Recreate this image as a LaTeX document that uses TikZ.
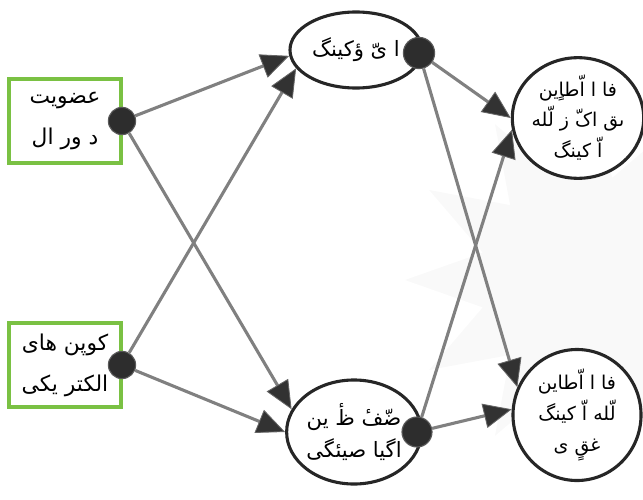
\documentclass[tikz,border=0pt]{standalone}
\usepackage{fontspec}
\usepackage{xcolor}
\usepackage{tikz}
\newfontfamily\arabicfont[Script=Arabic]{DejaVu Sans}
\TeXXeTstate=1
\usetikzlibrary{shapes,arrows.meta,positioning}
\definecolor{boxgreen}{RGB}{122,193,67}
\definecolor{linkgray}{RGB}{128,128,128}
\definecolor{headfill}{RGB}{50,50,50}
\definecolor{knobfill}{RGB}{45,45,45}
\newcommand{\rl}[1]{\beginR #1\endR}

\begin{document}
\begin{tikzpicture}[x=0.025cm, y=-0.025cm,
    inbox/.style={draw=boxgreen, line width=2.3pt, fill=white, minimum width=2.8cm, minimum height=2.1cm,
        inner sep=0pt, align=center, font=\arabicfont\fontsize{15.5}{29}\selectfont},
    hub/.style={ellipse, draw=black!85, line width=2.2pt, fill=white, inner sep=0pt, align=center,
        font=\arabicfont\fontsize{15}{23}\selectfont},
    knob/.style={circle, fill=knobfill, draw=gray!70!black, line width=0.8pt, minimum size=0.68cm, inner sep=0pt},
    link/.style={draw=linkgray, line width=2.2pt,
        -{Triangle[length=0.7cm, width=0.62cm, line width=0.6pt, color=gray!80!black, fill=headfill]}}]
    \useasboundingbox (0,0) rectangle (643,499);
    \clip (0,0) rectangle (643,499);

    % Faint background mark
    \node[star, star points=12, star point ratio=1.7, minimum size=9cm, fill=gray!5, inner sep=0pt] (rosette) at (585,280) {};

    % Input boxes
    \node[inbox] (member) at (65,121) {\rl{عضویت}\\\rl{د ور ال}};
    \node[inbox] (coupon) at (65,365) {\rl{کوپن های}\\\rl{الکتر یکی}};
    \node[knob] (k1) at (122,121) {};
    \node[knob] (k2) at (122,365) {};

    % Middle nodes
    \node[hub, minimum width=3.3cm, minimum height=1.9cm] (mail) at (356,50) {\rl{ا یّ ؤکینگ}};
    \node[hub, minimum width=3.15cm, minimum height=2.6cm] (social) at (354,432) {\rl{ضّفٔ ظٔ ین}\\\rl{اگیا صیئگی}};
    \node[knob, minimum size=0.78cm] (k3) at (419,53) {};
    \node[knob, minimum size=0.75cm] (k4) at (417,432) {};

    % Output nodes
    \node[hub, font=\arabicfont\fontsize{13.5}{22}\selectfont, minimum width=3.15cm, minimum height=2.8cm] (gainA) at (578,118) {\rl{فا ا اّطاٍین}\\\rl{ىق اکّ ز لّله}\\\rl{اّ کینگ}};
    \node[hub, font=\arabicfont\fontsize{13.5}{22}\selectfont, minimum width=3.2cm, minimum height=2.9cm] (gainB) at (577,415) {\rl{فا ا اّطاین}\\\rl{لّله اّ کینگ}\\\rl{غقٍ ی}};

    % Links
    \draw[link] (k1) -- (mail.185);
    \draw[link] (k2) -- (mail.197);
    \draw[link] (k1) -- (social.160);
    \draw[link] (k2) -- (social.180);
    \draw[link] (k3) -- (gainA.180);
    \draw[link] (k4) -- (gainA.190);
    \draw[link] (k3) -- (gainB.155);
    \draw[link] (k4) -- (gainB.175);
\end{tikzpicture}
\end{document}
